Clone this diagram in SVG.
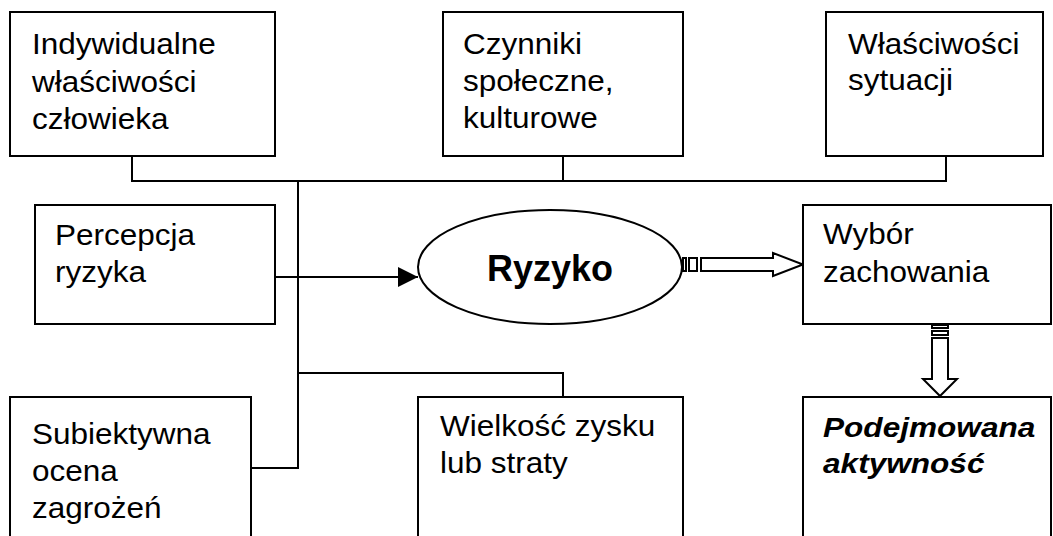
<svg xmlns="http://www.w3.org/2000/svg" width="1053" height="536" viewBox="0 0 1053 536">
  <style>
    .box { fill: #fff; stroke: #000; stroke-width: 2; }
    .wire { fill: none; stroke: #000; stroke-width: 2; }
    .block { fill: #fff; stroke: #000; stroke-width: 2; stroke-linejoin: miter; }
    .lbl { font-family: "Liberation Sans", Arial, sans-serif; font-size: 30px; fill: #000; }
    .big { font-family: "Liberation Sans", Arial, sans-serif; font-size: 36px; font-weight: bold; fill: #000; }
    .em { font-family: "Liberation Sans", Arial, sans-serif; font-size: 27px; font-weight: bold; font-style: italic; fill: #000; }
  </style>
  <defs>
    <marker id="tri" viewBox="0 0 20 20" refX="20" refY="10" markerWidth="20" markerHeight="20" markerUnits="userSpaceOnUse" orient="auto">
      <path d="M0,0 L20,10 L0,20 Z" fill="#000"/>
    </marker>
  </defs>
  <rect width="1053" height="536" fill="#fff"/>

  <!-- connectors -->
  <g id="connectors">
    <polyline class="wire" points="132,156 132,181 946,181 946,156"/>
    <line class="wire" x1="563" y1="156" x2="563" y2="181"/>
    <polyline class="wire" points="298,181 298,468 251,468"/>
    <polyline class="wire" points="298,373 563,373 563,397"/>
    <line class="wire" x1="275" y1="277" x2="418" y2="277" marker-end="url(#tri)"/>
    <!-- striped block arrow: Ryzyko -> Wybór zachowania -->
    <g id="arrow-right">
      <rect class="block" x="683" y="258" width="3" height="13"/>
      <rect class="block" x="689" y="258" width="8" height="13"/>
      <path class="block" d="M701,258 L773,258 L773,253 L803,264.5 L773,276 L773,271 L701,271 Z"/>
    </g>
    <!-- striped block arrow: Wybór zachowania -> Podejmowana aktywność -->
    <g id="arrow-down">
      <rect class="block" x="932" y="325" width="16" height="3"/>
      <rect class="block" x="932" y="331" width="16" height="4"/>
      <path class="block" d="M932,338 L948,338 L948,379 L957,379 L940,396 L923,379 L932,379 Z"/>
    </g>
  </g>

  <g id="node-indywidualne">
    <rect class="box" x="10" y="12" width="265" height="144"/>
    <text class="lbl" transform="translate(32 54) scale(1.05 1)"><tspan x="0" y="0">Indywidualne</tspan><tspan x="0" y="38">właściwości</tspan><tspan x="0" y="75">człowieka</tspan></text>
  </g>

  <g id="node-czynniki">
    <rect class="box" x="443" y="12" width="240" height="144"/>
    <text class="lbl" transform="translate(463 54) scale(1.05 1)"><tspan x="0" y="0">Czynniki</tspan><tspan x="0" y="37">społeczne,</tspan><tspan x="0" y="74">kulturowe</tspan></text>
  </g>

  <g id="node-wlasciwosci">
    <rect class="box" x="826" y="12" width="217" height="144"/>
    <text class="lbl" transform="translate(848 54) scale(1.05 1)"><tspan x="0" y="0">Właściwości</tspan><tspan x="0" y="36">sytuacji</tspan></text>
  </g>

  <g id="node-percepcja">
    <rect class="box" x="35" y="205" width="240" height="119"/>
    <text class="lbl" transform="translate(55 245) scale(1.05 1)"><tspan x="0" y="0">Percepcja</tspan><tspan x="0" y="37">ryzyka</tspan></text>
  </g>

  <g id="node-ryzyko">
    <ellipse class="box" cx="550" cy="267" rx="132" ry="57"/>
    <text class="big" x="550" y="281" text-anchor="middle">Ryzyko</text>
  </g>

  <g id="node-wybor">
    <rect class="box" x="803" y="205" width="248" height="119"/>
    <text class="lbl" transform="translate(823 244) scale(1.05 1)"><tspan x="0" y="0">Wybór</tspan><tspan x="0" y="38">zachowania</tspan></text>
  </g>

  <g id="node-subiektywna">
    <rect class="box" x="10" y="397" width="241" height="170"/>
    <text class="lbl" transform="translate(32 444) scale(1.05 1)"><tspan x="0" y="0">Subiektywna</tspan><tspan x="0" y="37">ocena</tspan><tspan x="0" y="74">zagrożeń</tspan></text>
  </g>

  <g id="node-wielkosc">
    <rect class="box" x="418" y="397" width="265" height="170"/>
    <text class="lbl" transform="translate(440 436) scale(1.05 1)"><tspan x="0" y="0">Wielkość zysku</tspan><tspan x="0" y="37">lub straty</tspan></text>
  </g>

  <g id="node-aktywnosc">
    <rect class="box" x="803" y="397" width="248" height="170"/>
    <text class="em" transform="translate(823 437) scale(1.17 1)"><tspan x="0" y="0">Podejmowana</tspan><tspan x="0" y="36">aktywność</tspan></text>
  </g>
</svg>
